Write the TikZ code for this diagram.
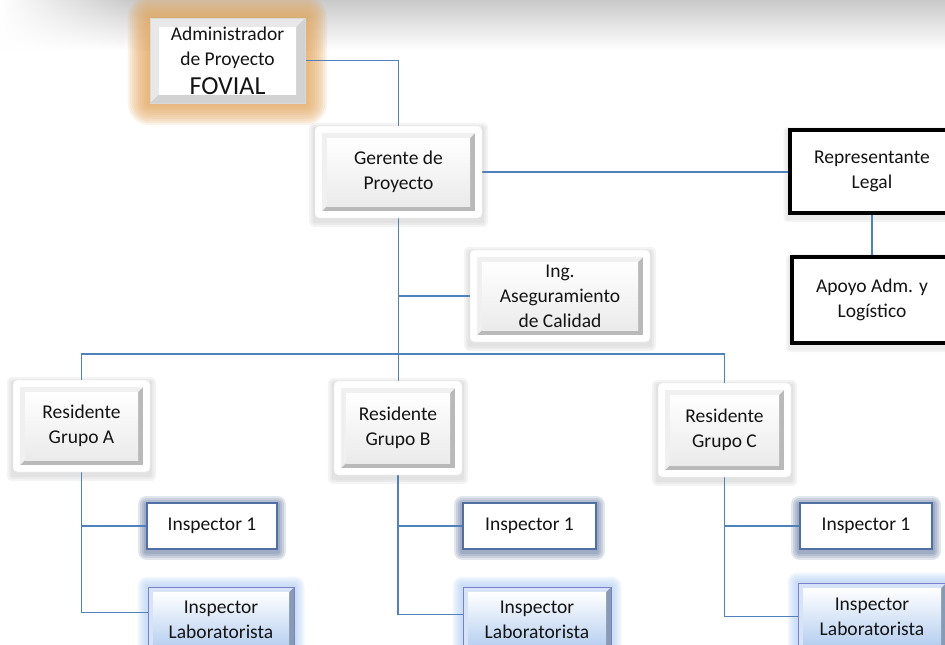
\documentclass[tikz,border=0pt]{standalone}
\usepackage{fontspec}
\setmainfont{Carlito}
\usetikzlibrary{fadings}
\pgfdeclarelayer{back}
\pgfdeclarelayer{bg}
\pgfsetlayers{back,bg,main}
\definecolor{conn}{RGB}{79,129,189}
\definecolor{glowor}{RGB}{226,168,98}
\definecolor{insb}{RGB}{80,112,165}
\definecolor{insglow}{RGB}{45,75,125}
\definecolor{labfill}{RGB}{182,207,240}
\definecolor{labglow}{RGB}{165,198,242}
\definecolor{txt}{RGB}{20,20,20}
\newcommand\myglow[5]{%
  \begin{pgfonlayer}{bg}
  \foreach \k in {2,4,...,#3}{
    \fill[#2, opacity=#4, rounded corners=\k pt]
      ([shift={(-\k pt,\k pt-#5)}]#1.north west) rectangle
      ([shift={(\k pt,-\k pt-#5)}]#1.south east);
  }
  \end{pgfonlayer}}
\tikzset{
  every node/.style={font=\fontsize{19.5}{25}\selectfont, text=txt, align=center, inner sep=0pt},
  link/.style={draw=conn, line width=1.8pt},
  bev/.style n args={5}{path picture={
      \path ([shift={(#1,#1)}]path picture bounding box.south west) coordinate (pA)
            ([shift={(-#1,-#1)}]path picture bounding box.north east) coordinate (pB);
      \coordinate (pC) at (pA |- pB);
      \coordinate (pD) at (pB |- pA);
      \fill[#3, sharp corners] (pA) rectangle (pB);
      \fill[#4, sharp corners] (pA) -- (pC) -- (pB) -- ([shift={(-#2,-#2)}]pB)
           -- ([shift={(#2,-#2)}]pC) -- ([shift={(#2,#2)}]pA) -- cycle;
      \shade[top color=white, bottom color=#5, sharp corners]
           ([shift={(#2,#2)}]pA) rectangle ([shift={(-#2,-#2)}]pB);
  }},
  gbox/.style={draw=gray!20, fill=white, rounded corners=4pt,
      bev={7pt}{5pt}{gray!55}{gray!12}{gray!16}},
  abox/.style={draw=gray!30, fill=white,
      bev={0pt}{9pt}{gray!35}{gray!18}{white}},
  ibox/.style={draw=insb, line width=1.8pt, fill=white},
  lbox/.style={draw=gray!55!blue!70, line width=1pt, fill=labfill,
      bev={0pt}{5pt}{labfill!75!black}{labfill!55!white}{labfill}},
  kbox/.style={draw=black, line width=4pt, fill=white},
}
\begin{document}
\begin{tikzpicture}[x=1pt,y=-1pt]
\useasboundingbox (0,0) rectangle (945,645);
\clip (0,0) rectangle (945,645);
% top shadow band
\begin{pgfonlayer}{back}
\shade[top color=gray!42, bottom color=white] (0,0) rectangle (945,50);
\fill[white, path fading=east] (0,0) rectangle (130,60);
\end{pgfonlayer}

% nodes
\node[abox, minimum width=155pt, minimum height=85pt] (admin) at (227.5,60.5)
  {Administrador\\de Proyecto\\[4pt]{\fontsize{26}{28}\selectfont FOVIAL}};
\node[gbox, minimum width=167pt, minimum height=92pt] (ger) at (398.5,172) {Gerente de\\Proyecto};
\node[gbox, minimum width=180pt, minimum height=92pt] (ing) at (560,296) {Ing.\\Aseguramiento\\de Calidad};
\node[kbox, minimum width=165pt, minimum height=83pt] (rep) at (872,171.5) {Representante\\Legal};
\node[kbox, minimum width=160pt, minimum height=86pt] (apo) at (872,300) {Apoyo Adm. y\\Logístico};
\node[gbox, minimum width=137pt, minimum height=92pt] (resA) at (81.5,426) {Residente\\Grupo A};
\node[gbox, minimum width=128pt, minimum height=94pt] (resB) at (398,428) {Residente\\Grupo B};
\node[gbox, minimum width=133pt, minimum height=94pt] (resC) at (724.5,430) {Residente\\Grupo C};
\node[ibox, minimum width=130pt, minimum height=46pt] (insA) at (212,526) {Inspector 1};
\node[ibox, minimum width=133pt, minimum height=46pt] (insB) at (529.5,526) {Inspector 1};
\node[ibox, minimum width=132pt, minimum height=46pt] (insC) at (866,526) {Inspector 1};
\node[lbox, minimum width=146pt, minimum height=65pt] (labA) at (221,619.5) {Inspector\\Laboratorista};
\node[lbox, minimum width=148pt, minimum height=65pt] (labB) at (537,619.5) {Inspector\\Laboratorista};
\node[lbox, minimum width=148pt, minimum height=67pt] (labC) at (872,616.5) {Inspector\\Laboratorista};

% glows and shadows
\myglow{admin}{glowor}{22}{0.14}{0pt}
\myglow{ger}{gray!70}{6}{0.12}{3pt}
\myglow{ing}{gray!70}{6}{0.12}{3pt}
\myglow{resA}{gray!70}{6}{0.12}{3pt}
\myglow{resB}{gray!70}{6}{0.12}{3pt}
\myglow{resC}{gray!70}{6}{0.12}{3pt}
\myglow{rep}{gray!70}{4}{0.12}{3pt}
\myglow{apo}{gray!70}{4}{0.12}{3pt}
\myglow{insA}{insglow}{8}{0.14}{2pt}
\myglow{insB}{insglow}{8}{0.14}{2pt}
\myglow{insC}{insglow}{8}{0.14}{2pt}
\myglow{labA}{labglow}{10}{0.16}{0pt}
\myglow{labB}{labglow}{10}{0.16}{0pt}
\myglow{labC}{labglow}{10}{0.16}{0pt}

% connectors
\begin{pgfonlayer}{bg}
\draw[link] (admin.east) -| (ger.north);
\draw[link] (ger.east) -- (ger.east -| rep.west);
\draw[link] (rep.south) -- (apo.north);
\draw[link] (ger.south) -- (ger.south |- resB.north);
\draw[link] (ger.south |- ing.west) -- (ing.west);
\coordinate (bar) at (398,354);
\draw[link] (resA.north) |- (bar) -| (resC.north);
\draw[link] (resA.south) |- ([yshift=7pt]labA.west);
\draw[link] (resA.south |- insA.west) -- (insA.west);
\draw[link] (resB.south) |- ([yshift=5pt]labB.west);
\draw[link] (resB.south |- insB.west) -- (insB.west);
\draw[link] (resC.south) |- ([yshift=0pt]labC.west);
\draw[link] (resC.south |- insC.west) -- (insC.west);
\end{pgfonlayer}
\end{tikzpicture}
\end{document}
